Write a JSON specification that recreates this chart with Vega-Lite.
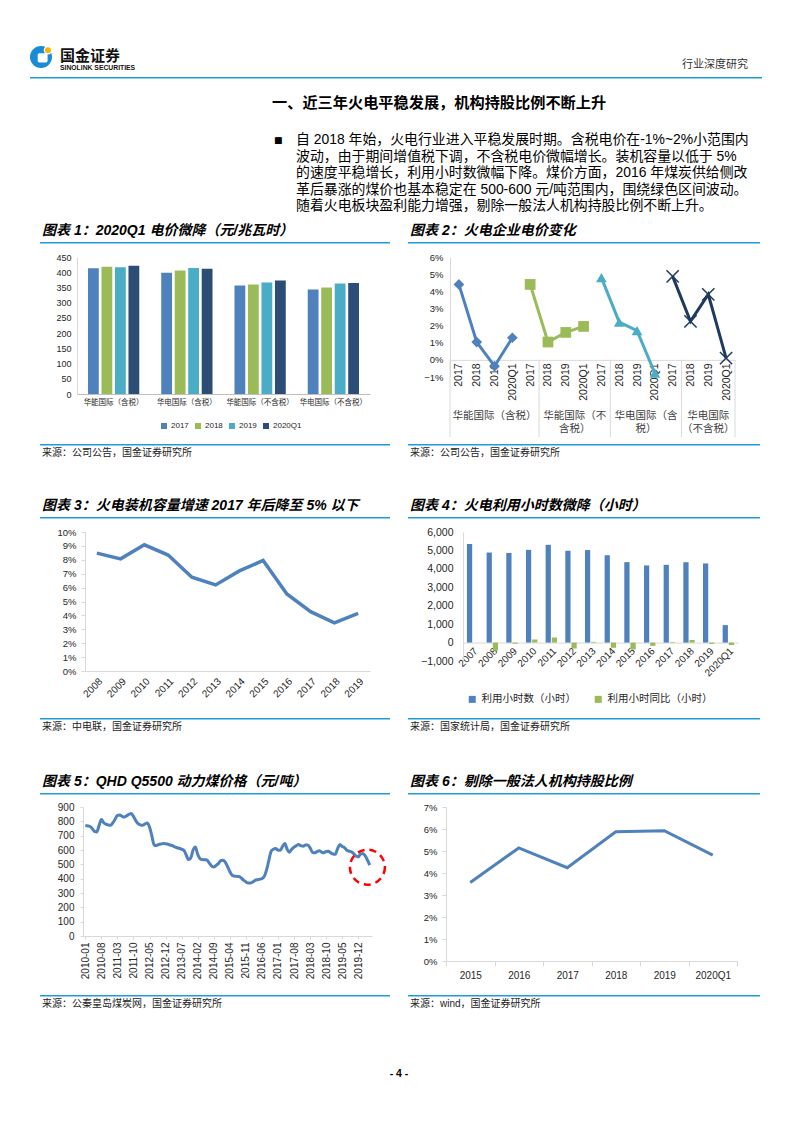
{
"$schema": "https://vega.github.io/schema/vega-lite/v6.json",
"padding": 0,
"background": "white",
"spacing": 0,
"bounds": "flush",
"columns": 6,
"align": "each",
"resolve": {"scale": {"color": "independent", "shape": "independent", "xOffset": "independent", "size": "independent"}, "legend": {"color": "independent", "shape": "independent"}},
"config": {
  "view": {"stroke": null},
  "font": "'Liberation Sans','Noto Sans CJK SC'",
  "axis": {"grid": false, "labelColor": "#262626", "domainColor": "#BFBFBF", "tickColor": "#BFBFBF", "labelFont": "'Liberation Sans','Noto Sans CJK SC'", "labelOverlap": false},
  "legend": {"labelColor": "#262626"}
},
"concat": [
  {"width": 30, "height": 46, "mark": "point", "data": {"values": []}},
  {"width": 10, "height": 1, "mark": "point", "data": {"values": []}},
  {"width": 350, "height": 1, "mark": "point", "data": {"values": []}},
  {"width": 18, "height": 1, "mark": "point", "data": {"values": []}},
  {"width": 352, "height": 1, "mark": "point", "data": {"values": []}},
  {"width": 2, "height": 1, "mark": "point", "data": {"values": []}},

  {"width": 30, "height": 31, "mark": "point", "data": {"values": []}},
  {"width": 10, "height": 1, "mark": "point", "data": {"values": []}},
  {"width": 2, "height": 22, "data": {"values": [{"logo": "国金证券"}]}, "layer": [
    {"mark": {"type": "point", "shape": "circle", "filled": true, "fill": "#1A8BD4", "strokeWidth": 0, "size": 484, "opacity": 1}, "encoding": {}},
    {"mark": {"type": "point", "shape": "M -0.15,-0.35 L 0.45,-0.35 Q 0.6,-0.35 0.6,-0.2 L 0.6,0.35 Q 0.6,0.5 0.45,0.5 L -0.15,0.5 Q -0.3,0.5 -0.3,0.35 L -0.3,-0.2 Q -0.3,-0.35 -0.15,-0.35 Z", "filled": true, "fill": "#FFFFFF", "strokeWidth": 0, "size": 484, "opacity": 1}, "encoding": {}},
    {"mark": {"type": "point", "shape": "M 0.3,-0.62 A 0.33,0.33 0 1 0 0.96,-0.62 A 0.33,0.33 0 1 0 0.3,-0.62 Z", "filled": true, "fill": "#F7B500", "stroke": "#FFFFFF", "strokeWidth": 1.2, "size": 484, "opacity": 1}, "encoding": {}}
  ]},
  {"width": 18, "height": 1, "mark": "point", "data": {"values": []}},
  {"width": 352, "height": 1, "mark": "point", "data": {"values": []}},
  {"width": 2, "height": 1, "mark": "point", "data": {"values": []}},

  {"width": 30, "height": 18, "mark": "point", "data": {"values": []}},
  {"width": 10, "height": 1.5, "mark": "point", "data": {"values": []}, "view": {"fill": "#1F9BD9"}},
  {"width": 350, "height": 1.5, "mark": "point", "data": {"values": []}, "view": {"fill": "#1F9BD9"},
   "title": {"text": "国金证券", "subtitle": "SINOLINK SECURITIES", "orient": "top", "anchor": "start", "dx": 20, "offset": 5, "font": "'Noto Sans CJK SC'", "fontSize": 15, "fontWeight": "bold", "color": "#111111", "subtitleFont": "'Liberation Sans'", "subtitleFontSize": 6.8, "subtitleFontWeight": "bold", "subtitleColor": "#111111", "subtitlePadding": 1}},
  {"width": 18, "height": 1.5, "mark": "point", "data": {"values": []}, "view": {"fill": "#1F9BD9"}},
  {"width": 352, "height": 1.5, "mark": "point", "data": {"values": []}, "view": {"fill": "#1F9BD9"},
   "title": {"text": "行业深度研究", "orient": "top", "anchor": "end", "dx": -12, "offset": 7, "font": "'Noto Sans CJK SC'", "fontSize": 11, "fontWeight": "normal", "color": "#333333"}},
  {"width": 2, "height": 1.5, "mark": "point", "data": {"values": []}, "view": {"fill": "#1F9BD9"}},

  {"width": 30, "height": 37, "mark": "point", "data": {"values": []}},
  {"width": 10, "height": 1, "mark": "point", "data": {"values": []}},
  {"width": 350, "height": 1, "mark": "point", "data": {"values": []},
   "title": {"text": "一、近三年火电平稳发展，机构持股比例不断上升", "orient": "bottom", "anchor": "start", "dx": 232, "offset": 0, "font": "'Noto Sans CJK SC'", "fontSize": 15.2, "fontWeight": "bold", "color": "#000000"}},
  {"width": 18, "height": 1, "mark": "point", "data": {"values": []}},
  {"width": 352, "height": 1, "mark": "point", "data": {"values": []}},
  {"width": 2, "height": 1, "mark": "point", "data": {"values": []}},

  {"width": 30, "height": 110, "mark": "point", "data": {"values": []}},
  {"width": 10, "height": 1, "mark": "point", "data": {"values": []}},
  {"width": 350, "height": 1, "mark": "point", "data": {"values": []},
   "title": {"text": "■", "orient": "bottom", "anchor": "start", "dx": 234, "offset": 3, "font": "'DejaVu Sans'", "fontSize": 9, "fontWeight": "normal", "color": "#000000"}},
  {"width": 18, "height": 1, "mark": "point", "data": {"values": []}},
  {"width": 352, "height": 1, "mark": "point", "data": {"values": []},
   "title": {"text": ["自 2018 年始，火电行业进入平稳发展时期。含税电价在-1%~2%小范围内", "波动，由于期间增值税下调，不含税电价微幅增长。装机容量以低于 5%", "的速度平稳增长，利用小时数微幅下降。煤价方面，2016 年煤炭供给侧改", "革后暴涨的煤价也基本稳定在 500-600 元/吨范围内，围绕绿色区间波动。", "随着火电板块盈利能力增强，剔除一般法人机构持股比例不断上升。"], "orient": "bottom", "anchor": "start", "dx": -112, "offset": 0, "font": "'Liberation Sans','Noto Sans CJK SC'", "fontSize": 13.9, "fontWeight": "normal", "lineHeight": 16.5, "color": "#000000"}},
  {"width": 2, "height": 1, "mark": "point", "data": {"values": []}},

  {"width": 30, "height": 15, "mark": "point", "data": {"values": []}},
  {"width": 10, "height": 1, "mark": "point", "data": {"values": []}},
  {"width": 350, "height": 1.5, "mark": "point", "data": {"values": []}, "view": {"fill": "#1F9BD9"},
   "title": {"text": "图表 1：2020Q1 电价微降（元/兆瓦时）", "orient": "top", "anchor": "start", "offset": 4, "dx": 2, "font": "'Liberation Sans','Noto Sans CJK SC'", "fontSize": 14, "fontWeight": "bold", "fontStyle": "italic", "color": "#000000"}},
  {"width": 18, "height": 1, "mark": "point", "data": {"values": []}},
  {"width": 352, "height": 1.5, "mark": "point", "data": {"values": []}, "view": {"fill": "#1F9BD9"},
   "title": {"text": "图表 2：火电企业电价变化", "orient": "top", "anchor": "start", "offset": 4, "dx": 2, "font": "'Liberation Sans','Noto Sans CJK SC'", "fontSize": 14, "fontWeight": "bold", "fontStyle": "italic", "color": "#000000"}},
  {"width": 2, "height": 1, "mark": "point", "data": {"values": []}},

  {"width": 30, "height": 187, "mark": "point", "data": {"values": []}},
  {"width": 10, "height": 1, "mark": "point", "data": {"values": []}},
  {"width": 350, "height": 137,
   "data": {"values": [
    {"company": "华能国际（含税）", "year": "2017", "price": 413},
    {"company": "华能国际（含税）", "year": "2018", "price": 418},
    {"company": "华能国际（含税）", "year": "2019", "price": 416},
    {"company": "华能国际（含税）", "year": "2020Q1", "price": 421},
    {"company": "华电国际（含税）", "year": "2017", "price": 398},
    {"company": "华电国际（含税）", "year": "2018", "price": 406},
    {"company": "华电国际（含税）", "year": "2019", "price": 414},
    {"company": "华电国际（含税）", "year": "2020Q1", "price": 411},
    {"company": "华能国际（不含税）", "year": "2017", "price": 356},
    {"company": "华能国际（不含税）", "year": "2018", "price": 360},
    {"company": "华能国际（不含税）", "year": "2019", "price": 366},
    {"company": "华能国际（不含税）", "year": "2020Q1", "price": 373},
    {"company": "华电国际（不含税）", "year": "2017", "price": 343},
    {"company": "华电国际（不含税）", "year": "2018", "price": 350},
    {"company": "华电国际（不含税）", "year": "2019", "price": 363},
    {"company": "华电国际（不含税）", "year": "2020Q1", "price": 365}
   ]},
   "mark": {"type": "bar"},
   "encoding": {
    "x": {"field": "company", "type": "nominal", "sort": ["华能国际（含税）", "华电国际（含税）", "华能国际（不含税）", "华电国际（不含税）"], "scale": {"range": [37, 330], "paddingInner": 0.3, "paddingOuter": 0.15}, "axis": {"title": null, "labelAngle": 0, "labelFont": "'Noto Sans CJK SC'", "labelFontSize": 7.5, "ticks": false, "labelPadding": 4, "domainColor": "#BFBFBF", "labelLimit": 0}},
    "xOffset": {"field": "year", "type": "nominal", "sort": ["2017", "2018", "2019", "2020Q1"], "scale": {"paddingInner": 0.2}},
    "y": {"field": "price", "type": "quantitative", "scale": {"domain": [0, 450], "nice": false}, "axis": {"title": null, "offset": -37, "values": [0, 50, 100, 150, 200, 250, 300, 350, 400, 450], "ticks": false, "domainColor": "#D9D9D9", "labelFontSize": 9, "labelPadding": 6}},
    "color": {"field": "year", "type": "nominal", "scale": {"domain": ["2017", "2018", "2019", "2020Q1"], "range": ["#4F81BD", "#9BBB59", "#4BACC6", "#2C4D75"]}, "legend": {"title": null, "orient": "none", "legendX": 120, "legendY": 165, "direction": "horizontal", "symbolType": "square", "symbolSize": 36, "labelFontSize": 8, "columnPadding": 5, "labelOffset": 3, "symbolStrokeWidth": 0}}
   }
  },
  {"width": 18, "height": 1, "mark": "point", "data": {"values": []}},
  {"width": 352, "height": 120,
   "layer": [
    {"data": {"values": [
      {"s": "华能国际（含税）", "k": "1_2017", "v": 0.044},
      {"s": "华能国际（含税）", "k": "1_2018", "v": 0.0104},
      {"s": "华能国际（含税）", "k": "1_2019", "v": -0.0037},
      {"s": "华能国际（含税）", "k": "1_2020Q1", "v": 0.0129},
      {"s": "华能国际（不含税）", "k": "2_2017", "v": 0.044},
      {"s": "华能国际（不含税）", "k": "2_2018", "v": 0.0104},
      {"s": "华能国际（不含税）", "k": "2_2019", "v": 0.0160},
      {"s": "华能国际（不含税）", "k": "2_2020Q1", "v": 0.0195},
      {"s": "华电国际（含税）", "k": "3_2017", "v": 0.048},
      {"s": "华电国际（含税）", "k": "3_2018", "v": 0.022},
      {"s": "华电国际（含税）", "k": "3_2019", "v": 0.0170},
      {"s": "华电国际（含税）", "k": "3_2020Q1", "v": -0.0078},
      {"s": "华电国际（不含税）", "k": "4_2017", "v": 0.0487},
      {"s": "华电国际（不含税）", "k": "4_2018", "v": 0.0225},
      {"s": "华电国际（不含税）", "k": "4_2019", "v": 0.0382},
      {"s": "华电国际（不含税）", "k": "4_2020Q1", "v": 0.0010}
     ]},
     "encoding": {
      "x": {"field": "k", "type": "nominal", "scale": {"type": "point", "padding": 0.5, "range": [42, 327], "domain": ["1_2017", "1_2018", "1_2019", "1_2020Q1", "2_2017", "2_2018", "2_2019", "2_2020Q1", "3_2017", "3_2018", "3_2019", "3_2020Q1", "4_2017", "4_2018", "4_2019", "4_2020Q1"]}, "axis": {"title": null, "labelExpr": "split(datum.value, '_')[1]", "labelAngle": -90, "labelAlign": "right", "labelBaseline": "middle", "labelFontSize": 10.5, "ticks": false, "offset": -17.14, "domainColor": "#D9D9D9", "labelPadding": 3}},
      "y": {"field": "v", "type": "quantitative", "scale": {"domain": [-0.01, 0.06], "nice": false}, "axis": {"title": null, "offset": -42, "values": [-0.01, 0, 0.01, 0.02, 0.03, 0.04, 0.05, 0.06], "format": ".0%", "ticks": false, "domainColor": "#D9D9D9", "labelFontSize": 9.5, "labelPadding": 7, "labelOverlap": false}},
      "color": {"field": "s", "type": "nominal", "scale": {"domain": ["华能国际（含税）", "华能国际（不含税）", "华电国际（含税）", "华电国际（不含税）"], "range": ["#4F81BD", "#9BBB59", "#4BACC6", "#1F3A5F"]}, "legend": null}
     },
     "layer": [
      {"mark": {"type": "line", "strokeWidth": 3}},
      {"transform": [{"filter": "datum.s !== '华电国际（不含税）'"}],
       "mark": {"type": "point", "filled": true, "opacity": 1, "size": 115},
       "encoding": {
        "shape": {"field": "s", "type": "nominal", "scale": {"domain": ["华能国际（含税）", "华能国际（不含税）", "华电国际（含税）"], "range": ["diamond", "square", "triangle-up"]}, "legend": null}
       }},
      {"transform": [{"filter": "datum.s === '华电国际（不含税）'"}],
       "mark": {"type": "point", "shape": "M -1,-1 L 1,1 M -1,1 L 1,-1", "filled": false, "strokeWidth": 1.5, "size": 150, "opacity": 1}}
     ]},
    {"data": {"values": [{"b": 0}, {"b": 5}, {"b": 9}, {"b": 13}, {"b": 16}]},
     "mark": {"type": "rule", "color": "#D9D9D9", "strokeWidth": 1},
     "encoding": {
      "x": {"field": "b", "type": "quantitative", "scale": {"domain": [0, 16], "range": [42, 327], "nice": false, "zero": false}, "axis": null},
      "y": {"datum": 0, "type": "quantitative", "axis": {"title": null, "offset": -42, "values": [-0.01, 0, 0.01, 0.02, 0.03, 0.04, 0.05, 0.06], "format": ".0%", "ticks": false, "domainColor": "#D9D9D9", "labelFontSize": 9.5, "labelPadding": 7, "labelOverlap": false}},
      "y2": {"datum": -0.045}
     }},
    {"data": {"values": [{"g": "华能国际（含税）", "c": 2.5}, {"g": "华能国际（不|含税）", "c": 7}, {"g": "华电国际（含|税）", "c": 11}, {"g": "华电国际|（不含税）", "c": 14.5}]},
     "mark": {"type": "text", "lineBreak": "|", "font": "'Noto Sans CJK SC'", "fontSize": 10.5, "baseline": "top", "align": "center", "lineHeight": 13, "color": "#404040"},
     "encoding": {
      "x": {"field": "c", "type": "quantitative", "scale": {"domain": [0, 16], "range": [42, 327], "nice": false, "zero": false}, "axis": null},
      "y": {"datum": -0.0298, "type": "quantitative", "axis": {"title": null, "offset": -42, "values": [-0.01, 0, 0.01, 0.02, 0.03, 0.04, 0.05, 0.06], "format": ".0%", "ticks": false, "domainColor": "#D9D9D9", "labelFontSize": 9.5, "labelPadding": 7, "labelOverlap": false}},
      "text": {"field": "g"}
     }}
   ],
   "resolve": {"scale": {"x": "independent"}}
  },
  {"width": 2, "height": 1, "mark": "point", "data": {"values": []}},

  {"width": 30, "height": 73, "mark": "point", "data": {"values": []}},
  {"width": 10, "height": 1, "mark": "point", "data": {"values": []}},
  {"width": 350, "height": 1.5, "mark": "point", "data": {"values": []}, "view": {"fill": "#1F9BD9"},
   "title": {"text": "来源：公司公告，国金证券研究所", "orient": "bottom", "anchor": "start", "offset": 2, "dx": 2, "font": "'Liberation Sans','Noto Sans CJK SC'", "fontSize": 10, "fontWeight": "normal", "color": "#222222"}},
  {"width": 18, "height": 1, "mark": "point", "data": {"values": []}},
  {"width": 352, "height": 1.5, "mark": "point", "data": {"values": []}, "view": {"fill": "#1F9BD9"},
   "title": {"text": "来源：公司公告，国金证券研究所", "orient": "bottom", "anchor": "start", "offset": 2, "dx": 2, "font": "'Liberation Sans','Noto Sans CJK SC'", "fontSize": 10, "fontWeight": "normal", "color": "#222222"}},
  {"width": 2, "height": 1, "mark": "point", "data": {"values": []}},

  {"width": 30, "height": 15, "mark": "point", "data": {"values": []}},
  {"width": 10, "height": 1, "mark": "point", "data": {"values": []}},
  {"width": 350, "height": 1.5, "mark": "point", "data": {"values": []}, "view": {"fill": "#1F9BD9"},
   "title": {"text": "图表 3：火电装机容量增速 2017 年后降至 5% 以下", "orient": "top", "anchor": "start", "offset": 4, "dx": 2, "font": "'Liberation Sans','Noto Sans CJK SC'", "fontSize": 14, "fontWeight": "bold", "fontStyle": "italic", "color": "#000000"}},
  {"width": 18, "height": 1, "mark": "point", "data": {"values": []}},
  {"width": 352, "height": 1.5, "mark": "point", "data": {"values": []}, "view": {"fill": "#1F9BD9"},
   "title": {"text": "图表 4：火电利用小时数微降（小时）", "orient": "top", "anchor": "start", "offset": 4, "dx": 2, "font": "'Liberation Sans','Noto Sans CJK SC'", "fontSize": 14, "fontWeight": "bold", "fontStyle": "italic", "color": "#000000"}},
  {"width": 2, "height": 1, "mark": "point", "data": {"values": []}},

  {"width": 30, "height": 186, "mark": "point", "data": {"values": []}},
  {"width": 10, "height": 1, "mark": "point", "data": {"values": []}},
  {"width": 350, "height": 139,
   "data": {"values": [
    {"year": "2008", "rate": 0.0848}, {"year": "2009", "rate": 0.0807}, {"year": "2010", "rate": 0.0908},
    {"year": "2011", "rate": 0.0834}, {"year": "2012", "rate": 0.0675}, {"year": "2013", "rate": 0.0619},
    {"year": "2014", "rate": 0.0720}, {"year": "2015", "rate": 0.0795}, {"year": "2016", "rate": 0.0554},
    {"year": "2017", "rate": 0.0427}, {"year": "2018", "rate": 0.0347}, {"year": "2019", "rate": 0.0414}
   ]},
   "mark": {"type": "line", "strokeWidth": 3.5, "color": "#4F81BD"},
   "encoding": {
    "x": {"field": "year", "type": "ordinal", "scale": {"type": "point", "padding": 0.5, "range": [45, 330]}, "axis": {"title": null, "labelAngle": -45, "labelFontSize": 10, "ticks": false, "domainColor": "#D9D9D9", "labelPadding": 5}},
    "y": {"field": "rate", "type": "quantitative", "scale": {"domain": [0, 0.1], "nice": false}, "axis": {"title": null, "offset": -45, "format": ".0%", "values": [0, 0.01, 0.02, 0.03, 0.04, 0.05, 0.06, 0.07, 0.08, 0.09, 0.1], "labelFontSize": 9.5, "ticks": true, "tickSize": 4, "domainColor": "#D9D9D9", "tickColor": "#D9D9D9", "labelPadding": 5}}
   }
  },
  {"width": 18, "height": 1, "mark": "point", "data": {"values": []}},
  {"width": 352, "height": 129,
   "data": {"values": [
    {"year": "2007", "series": "利用小时数（小时）", "hours": 5344},
    {"year": "2008", "series": "利用小时数（小时）", "hours": 4885},
    {"year": "2009", "series": "利用小时数（小时）", "hours": 4865},
    {"year": "2010", "series": "利用小时数（小时）", "hours": 5031},
    {"year": "2011", "series": "利用小时数（小时）", "hours": 5305},
    {"year": "2012", "series": "利用小时数（小时）", "hours": 4982},
    {"year": "2013", "series": "利用小时数（小时）", "hours": 5021},
    {"year": "2014", "series": "利用小时数（小时）", "hours": 4739},
    {"year": "2015", "series": "利用小时数（小时）", "hours": 4364},
    {"year": "2016", "series": "利用小时数（小时）", "hours": 4186},
    {"year": "2017", "series": "利用小时数（小时）", "hours": 4219},
    {"year": "2018", "series": "利用小时数（小时）", "hours": 4361},
    {"year": "2019", "series": "利用小时数（小时）", "hours": 4293},
    {"year": "2020Q1", "series": "利用小时数（小时）", "hours": 947},
    {"year": "2008", "series": "利用小时同比（小时）", "hours": -440},
    {"year": "2009", "series": "利用小时同比（小时）", "hours": -60},
    {"year": "2010", "series": "利用小时同比（小时）", "hours": 166},
    {"year": "2011", "series": "利用小时同比（小时）", "hours": 274},
    {"year": "2012", "series": "利用小时同比（小时）", "hours": -323},
    {"year": "2013", "series": "利用小时同比（小时）", "hours": 39},
    {"year": "2014", "series": "利用小时同比（小时）", "hours": -282},
    {"year": "2015", "series": "利用小时同比（小时）", "hours": -375},
    {"year": "2016", "series": "利用小时同比（小时）", "hours": -178},
    {"year": "2017", "series": "利用小时同比（小时）", "hours": 33},
    {"year": "2018", "series": "利用小时同比（小时）", "hours": 142},
    {"year": "2019", "series": "利用小时同比（小时）", "hours": -68},
    {"year": "2020Q1", "series": "利用小时同比（小时）", "hours": -135}
   ]},
   "mark": {"type": "bar"},
   "encoding": {
    "x": {"field": "year", "type": "ordinal", "scale": {"range": [55, 330], "paddingInner": 0.42, "paddingOuter": 0.2}, "axis": {"title": null, "labelAngle": -45, "labelFontSize": 10, "ticks": false, "offset": -18.43, "domainColor": "#D9D9D9", "labelPadding": 3}},
    "xOffset": {"field": "series", "type": "nominal", "sort": ["利用小时数（小时）", "利用小时同比（小时）"], "scale": {"paddingInner": 0.15}},
    "y": {"field": "hours", "type": "quantitative", "scale": {"domain": [-1000, 6000], "nice": false}, "axis": {"title": null, "offset": -55, "values": [-1000, 0, 1000, 2000, 3000, 4000, 5000, 6000], "format": ",.0f", "labelFontSize": 10.5, "ticks": false, "domainColor": "#D9D9D9", "labelPadding": 10}},
    "color": {"field": "series", "type": "nominal", "scale": {"domain": ["利用小时数（小时）", "利用小时同比（小时）"], "range": ["#4F81BD", "#9BBB59"]}, "legend": {"title": null, "orient": "none", "legendX": 59, "legendY": 162, "direction": "horizontal", "symbolType": "square", "symbolSize": 49, "symbolStrokeWidth": 0, "labelFont": "'Noto Sans CJK SC'", "labelFontSize": 10.5, "columnPadding": 17, "labelOffset": 4}}
   }
  },
  {"width": 2, "height": 1, "mark": "point", "data": {"values": []}},

  {"width": 30, "height": 75, "mark": "point", "data": {"values": []}},
  {"width": 10, "height": 1, "mark": "point", "data": {"values": []}},
  {"width": 350, "height": 1.5, "mark": "point", "data": {"values": []}, "view": {"fill": "#1F9BD9"},
   "title": {"text": "来源：中电联，国金证券研究所", "orient": "bottom", "anchor": "start", "offset": 2, "dx": 2, "font": "'Liberation Sans','Noto Sans CJK SC'", "fontSize": 10, "fontWeight": "normal", "color": "#222222"}},
  {"width": 18, "height": 1, "mark": "point", "data": {"values": []}},
  {"width": 352, "height": 1.5, "mark": "point", "data": {"values": []}, "view": {"fill": "#1F9BD9"},
   "title": {"text": "来源：国家统计局，国金证券研究所", "orient": "bottom", "anchor": "start", "offset": 2, "dx": 2, "font": "'Liberation Sans','Noto Sans CJK SC'", "fontSize": 10, "fontWeight": "normal", "color": "#222222"}},
  {"width": 2, "height": 1, "mark": "point", "data": {"values": []}},

  {"width": 30, "height": 14, "mark": "point", "data": {"values": []}},
  {"width": 10, "height": 1, "mark": "point", "data": {"values": []}},
  {"width": 350, "height": 1.5, "mark": "point", "data": {"values": []}, "view": {"fill": "#1F9BD9"},
   "title": {"text": "图表 5：QHD Q5500 动力煤价格（元/吨）", "orient": "top", "anchor": "start", "offset": 4, "dx": 2, "font": "'Liberation Sans','Noto Sans CJK SC'", "fontSize": 14, "fontWeight": "bold", "fontStyle": "italic", "color": "#000000"}},
  {"width": 18, "height": 1, "mark": "point", "data": {"values": []}},
  {"width": 352, "height": 1.5, "mark": "point", "data": {"values": []}, "view": {"fill": "#1F9BD9"},
   "title": {"text": "图表 6：剔除一般法人机构持股比例", "orient": "top", "anchor": "start", "offset": 4, "dx": 2, "font": "'Liberation Sans','Noto Sans CJK SC'", "fontSize": 14, "fontWeight": "bold", "fontStyle": "italic", "color": "#000000"}},
  {"width": 2, "height": 1, "mark": "point", "data": {"values": []}},

  {"width": 30, "height": 188, "mark": "point", "data": {"values": []}},
  {"width": 10, "height": 1, "mark": "point", "data": {"values": []}},
  {"width": 350, "height": 129,
   "layer": [
    {"data": {"values": [
      {"month": "2010-01", "price": 772}, {"month": "2010-02", "price": 768}, {"month": "2010-03", "price": 765}, {"month": "2010-04", "price": 750}, {"month": "2010-05", "price": 730}, {"month": "2010-06", "price": 726}, {"month": "2010-07", "price": 770}, {"month": "2010-08", "price": 812}, {"month": "2010-09", "price": 790}, {"month": "2010-10", "price": 780}, {"month": "2010-11", "price": 775}, {"month": "2010-12", "price": 772},
      {"month": "2011-01", "price": 790}, {"month": "2011-02", "price": 815}, {"month": "2011-03", "price": 842}, {"month": "2011-04", "price": 845}, {"month": "2011-05", "price": 835}, {"month": "2011-06", "price": 830}, {"month": "2011-07", "price": 838}, {"month": "2011-08", "price": 848}, {"month": "2011-09", "price": 854}, {"month": "2011-10", "price": 835}, {"month": "2011-11", "price": 805}, {"month": "2011-12", "price": 784},
      {"month": "2012-01", "price": 775}, {"month": "2012-02", "price": 772}, {"month": "2012-03", "price": 782}, {"month": "2012-04", "price": 788}, {"month": "2012-05", "price": 760}, {"month": "2012-06", "price": 700}, {"month": "2012-07", "price": 635}, {"month": "2012-08", "price": 632}, {"month": "2012-09", "price": 638}, {"month": "2012-10", "price": 642}, {"month": "2012-11", "price": 645}, {"month": "2012-12", "price": 643},
      {"month": "2013-01", "price": 640}, {"month": "2013-02", "price": 635}, {"month": "2013-03", "price": 630}, {"month": "2013-04", "price": 622}, {"month": "2013-05", "price": 616}, {"month": "2013-06", "price": 612}, {"month": "2013-07", "price": 605}, {"month": "2013-08", "price": 598}, {"month": "2013-09", "price": 565}, {"month": "2013-10", "price": 533}, {"month": "2013-11", "price": 545}, {"month": "2013-12", "price": 600},
      {"month": "2014-01", "price": 621}, {"month": "2014-02", "price": 570}, {"month": "2014-03", "price": 540}, {"month": "2014-04", "price": 533}, {"month": "2014-05", "price": 532}, {"month": "2014-06", "price": 530}, {"month": "2014-07", "price": 510}, {"month": "2014-08", "price": 490}, {"month": "2014-09", "price": 481}, {"month": "2014-10", "price": 492}, {"month": "2014-11", "price": 505}, {"month": "2014-12", "price": 525},
      {"month": "2015-01", "price": 528}, {"month": "2015-02", "price": 515}, {"month": "2015-03", "price": 485}, {"month": "2015-04", "price": 450}, {"month": "2015-05", "price": 424}, {"month": "2015-06", "price": 418}, {"month": "2015-07", "price": 416}, {"month": "2015-08", "price": 415}, {"month": "2015-09", "price": 405}, {"month": "2015-10", "price": 390}, {"month": "2015-11", "price": 378}, {"month": "2015-12", "price": 370},
      {"month": "2016-01", "price": 370}, {"month": "2016-02", "price": 377}, {"month": "2016-03", "price": 388}, {"month": "2016-04", "price": 393}, {"month": "2016-05", "price": 396}, {"month": "2016-06", "price": 400}, {"month": "2016-07", "price": 415}, {"month": "2016-08", "price": 460}, {"month": "2016-09", "price": 525}, {"month": "2016-10", "price": 590}, {"month": "2016-11", "price": 605}, {"month": "2016-12", "price": 610},
      {"month": "2017-01", "price": 600}, {"month": "2017-02", "price": 598}, {"month": "2017-03", "price": 625}, {"month": "2017-04", "price": 645}, {"month": "2017-05", "price": 605}, {"month": "2017-06", "price": 585}, {"month": "2017-07", "price": 605}, {"month": "2017-08", "price": 620}, {"month": "2017-09", "price": 630}, {"month": "2017-10", "price": 638}, {"month": "2017-11", "price": 630}, {"month": "2017-12", "price": 626},
      {"month": "2018-01", "price": 635}, {"month": "2018-02", "price": 635}, {"month": "2018-03", "price": 615}, {"month": "2018-04", "price": 585}, {"month": "2018-05", "price": 580}, {"month": "2018-06", "price": 588}, {"month": "2018-07", "price": 594}, {"month": "2018-08", "price": 586}, {"month": "2018-09", "price": 580}, {"month": "2018-10", "price": 590}, {"month": "2018-11", "price": 592}, {"month": "2018-12", "price": 580},
      {"month": "2019-01", "price": 572}, {"month": "2019-02", "price": 570}, {"month": "2019-03", "price": 610}, {"month": "2019-04", "price": 638}, {"month": "2019-05", "price": 625}, {"month": "2019-06", "price": 617}, {"month": "2019-07", "price": 598}, {"month": "2019-08", "price": 592}, {"month": "2019-09", "price": 587}, {"month": "2019-10", "price": 575}, {"month": "2019-11", "price": 558}, {"month": "2019-12", "price": 552},
      {"month": "2020-01", "price": 572}, {"month": "2020-02", "price": 575}, {"month": "2020-03", "price": 560}, {"month": "2020-04", "price": 530}, {"month": "2020-05", "price": 495}
     ]},
     "mark": {"type": "line", "strokeWidth": 3, "color": "#4F81BD", "interpolate": "monotone"},
     "encoding": {
      "x": {"field": "month", "type": "ordinal", "scale": {"type": "point", "padding": 1.3, "range": [43, 332]}, "axis": {"title": null, "values": ["2010-01", "2010-08", "2011-03", "2011-10", "2012-05", "2012-12", "2013-07", "2014-02", "2014-09", "2015-04", "2015-11", "2016-06", "2017-01", "2017-08", "2018-03", "2018-10", "2019-05", "2019-12"], "labelAngle": -90, "labelAlign": "right", "labelBaseline": "middle", "labelFontSize": 10, "ticks": true, "tickSize": 3, "domainColor": "#D9D9D9", "tickColor": "#D9D9D9", "labelPadding": 3}},
      "y": {"field": "price", "type": "quantitative", "scale": {"domain": [0, 900], "nice": false}, "axis": {"title": null, "offset": -43, "values": [0, 100, 200, 300, 400, 500, 600, 700, 800, 900], "labelFontSize": 10, "ticks": true, "tickSize": 3, "domainColor": "#D9D9D9", "tickColor": "#D9D9D9", "labelPadding": 6}}
     }},
    {"data": {"values": [{"month": "2020-04", "price": 480}]},
     "mark": {"type": "point", "shape": "circle", "filled": false, "stroke": "#FF0000", "strokeWidth": 2.5, "strokeDash": [7, 5], "size": 1225, "opacity": 1},
     "encoding": {
      "x": {"field": "month", "type": "ordinal", "axis": {"title": null, "values": ["2010-01", "2010-08", "2011-03", "2011-10", "2012-05", "2012-12", "2013-07", "2014-02", "2014-09", "2015-04", "2015-11", "2016-06", "2017-01", "2017-08", "2018-03", "2018-10", "2019-05", "2019-12"], "labelAngle": -90, "labelAlign": "right", "labelBaseline": "middle", "labelFontSize": 10, "ticks": true, "tickSize": 3, "domainColor": "#D9D9D9", "tickColor": "#D9D9D9", "labelPadding": 3}},
      "y": {"field": "price", "type": "quantitative", "axis": {"title": null, "offset": -43, "values": [0, 100, 200, 300, 400, 500, 600, 700, 800, 900], "labelFontSize": 10, "ticks": true, "tickSize": 3, "domainColor": "#D9D9D9", "tickColor": "#D9D9D9", "labelPadding": 6}}
     }}
   ]
  },
  {"width": 18, "height": 1, "mark": "point", "data": {"values": []}},
  {"width": 352, "height": 154,
   "data": {"values": [
    {"period": "2015", "ratio": 0.0357}, {"period": "2016", "ratio": 0.0514}, {"period": "2017", "ratio": 0.0424},
    {"period": "2018", "ratio": 0.0587}, {"period": "2019", "ratio": 0.0592}, {"period": "2020Q1", "ratio": 0.0481}
   ]},
   "mark": {"type": "line", "strokeWidth": 3, "color": "#4F81BD"},
   "encoding": {
    "x": {"field": "period", "type": "ordinal", "bandPosition": 0.5, "scale": {"type": "band", "paddingInner": 0, "paddingOuter": 0, "range": [38, 329]}, "axis": {"title": null, "labelAngle": 0, "tickBand": "extent", "ticks": true, "tickSize": 5, "labelFontSize": 10, "labelPadding": 4, "domainColor": "#D9D9D9", "tickColor": "#D9D9D9"}},
    "y": {"field": "ratio", "type": "quantitative", "scale": {"domain": [0, 0.07], "nice": false}, "axis": {"title": null, "offset": -38, "format": ".0%", "values": [0, 0.01, 0.02, 0.03, 0.04, 0.05, 0.06, 0.07], "ticks": true, "tickSize": 4, "labelFontSize": 9.5, "labelPadding": 5, "domainColor": "#D9D9D9", "tickColor": "#D9D9D9"}}
   }
  },
  {"width": 2, "height": 1, "mark": "point", "data": {"values": []}},

  {"width": 30, "height": 70, "mark": "point", "data": {"values": []}},
  {"width": 10, "height": 1, "mark": "point", "data": {"values": []}},
  {"width": 350, "height": 1.5, "mark": "point", "data": {"values": []}, "view": {"fill": "#1F9BD9"},
   "title": {"text": "来源：公秦皇岛煤炭网，国金证券研究所", "orient": "bottom", "anchor": "start", "offset": 2, "dx": 2, "font": "'Liberation Sans','Noto Sans CJK SC'", "fontSize": 10, "fontWeight": "normal", "color": "#222222"}},
  {"width": 18, "height": 1, "mark": "point", "data": {"values": []}},
  {"width": 352, "height": 1.5, "mark": "point", "data": {"values": []}, "view": {"fill": "#1F9BD9"},
   "title": {"text": "来源：wind，国金证券研究所", "orient": "bottom", "anchor": "start", "offset": 2, "dx": 2, "font": "'Liberation Sans','Noto Sans CJK SC'", "fontSize": 10, "fontWeight": "normal", "color": "#222222"}},
  {"width": 2, "height": 1, "mark": "point", "data": {"values": []}},

  {"width": 30, "height": 57, "mark": "point", "data": {"values": []}},
  {"width": 10, "height": 1, "mark": "point", "data": {"values": []}},
  {"width": 350, "height": 1, "mark": "point", "data": {"values": []}},
  {"width": 18, "height": 1, "mark": "point", "data": {"values": []},
   "title": {"text": "- 4 -", "orient": "bottom", "anchor": "middle", "offset": 3, "font": "'Liberation Sans'", "fontSize": 10.5, "fontWeight": "bold", "color": "#000000"}},
  {"width": 352, "height": 1, "mark": "point", "data": {"values": []}},
  {"width": 2, "height": 1, "mark": "point", "data": {"values": []}}
]
}
